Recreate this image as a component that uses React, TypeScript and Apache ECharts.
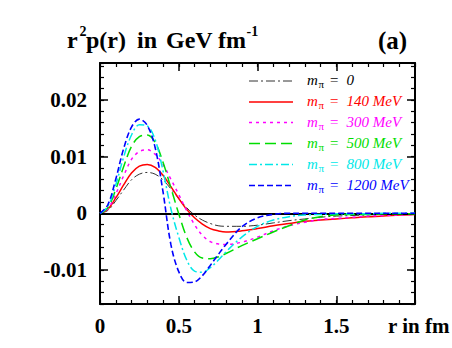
import React, { useEffect, useRef } from "react";
import * as echarts from "echarts";

// r in fm
const R = [0, 0.05, 0.1, 0.15, 0.2, 0.25, 0.3, 0.35, 0.4, 0.45, 0.5, 0.55, 0.6, 0.65, 0.7, 0.75, 0.8, 0.9, 1.0, 1.1, 1.2, 1.3, 1.4, 1.5, 1.6, 1.7, 1.8, 1.9, 2.0];

// r^2 p(r) in GeV fm^-1
const M0 = [0, 0.0005, 0.0022, 0.0041, 0.0059, 0.0069, 0.0072, 0.0069, 0.0059, 0.0043, 0.0026, 0.0010, -0.0003, -0.0012, -0.0018, -0.0022, -0.0023, -0.0023, -0.0021, -0.0017, -0.0013, -0.0010, -0.0007, -0.0005, -0.0004, -0.0003, -0.0002, -0.0002, -0.0001];
const M140 = [0, 0.0007, 0.0027, 0.0050, 0.0071, 0.0083, 0.0086, 0.0081, 0.0067, 0.0047, 0.0026, 0.0007, -0.0008, -0.0019, -0.0027, -0.0031, -0.0033, -0.0031, -0.0027, -0.0022, -0.0018, -0.0014, -0.0012, -0.0010, -0.0008, -0.0006, -0.0005, -0.0003, -0.0002];
const M300 = [0, 0.0008, 0.0034, 0.0066, 0.0095, 0.0109, 0.0112, 0.0104, 0.0086, 0.0060, 0.0033, 0.0005, -0.0020, -0.0039, -0.0050, -0.0054, -0.0055, -0.0051, -0.0042, -0.0031, -0.0022, -0.0016, -0.0011, -0.0009, -0.0007, -0.0005, -0.0004, -0.0003, -0.0002];
const M500 = [0, 0.0010, 0.0042, 0.0082, 0.0118, 0.0135, 0.0138, 0.0125, 0.0090, 0.0045, -0.0001, -0.0042, -0.0068, -0.0079, -0.0080, -0.0077, -0.0071, -0.0057, -0.0045, -0.0033, -0.0022, -0.0012, -0.0006, -0.0003, -0.0002, -0.0002, -0.0001, -0.0001, -0.0001];
const M800 = [0, 0.0012, 0.0050, 0.0099, 0.0138, 0.0156, 0.0154, 0.0130, 0.0075, 0.0008, -0.0042, -0.0082, -0.0102, -0.0104, -0.0096, -0.0083, -0.0068, -0.0042, -0.0023, -0.0012, -0.0006, -0.0003, -0.0002, -0.0001, -0.0001, -0.0001, 0, 0, 0];
const M1200 = [0, 0.0015, 0.0060, 0.0114, 0.0152, 0.0166, 0.0155, 0.0116, 0.0038, -0.0055, -0.0103, -0.0122, -0.0121, -0.0110, -0.0092, -0.0073, -0.0055, -0.0024, -0.0008, -0.0002, 0, 0, 0, 0, 0, 0, 0, 0, 0];

const LEGEND_VALUES = ["0", "140 MeV", "300 MeV", "500 MeV", "800 MeV", "1200 MeV"];
const Y_MAJOR = [-0.01, 0, 0.01, 0.02];

const SERIES = [
  { data: M0, color: "#333333", dash: [9, 3, 2, 3], width: 1 },
  { data: M140, color: "#ff0000", dash: "solid" as any, width: 1.5 },
  { data: M300, color: "#ff00ff", dash: [3, 4], width: 1.5 },
  { data: M500, color: "#00dd00", dash: [11, 5], width: 1.5 },
  { data: M800, color: "#00e8e8", dash: [8, 3, 2, 3], width: 1.5 },
  { data: M1200, color: "#0000ff", dash: [6, 3], width: 1.6 },
];

const SERIF = "Liberation Serif";

export default function App() {
  const ref = useRef<HTMLDivElement>(null);
  useEffect(() => {
    if (!ref.current) return;
    const chart = echarts.init(ref.current, null, { renderer: "svg" });

    const minorX = (pos: string) => ({
      type: "value", min: 0, max: 2, interval: 0.1, position: pos,
      axisLine: { show: true, onZero: false, lineStyle: { color: "#000", width: 2 } },
      axisTick: { show: true, inside: true, length: 4, lineStyle: { color: "#000", width: 1.2 } },
      axisLabel: { show: false }, splitLine: { show: false },
    });
    const majorX = (pos: string, labels: boolean) => ({
      type: "value", min: 0, max: 2, interval: 0.5, position: pos,
      axisLine: { show: false, onZero: false },
      axisTick: { show: true, inside: true, length: 8, lineStyle: { color: "#000", width: 1.5 } },
      axisLabel: {
        show: labels, margin: 11, color: "#000", fontFamily: SERIF, fontWeight: "bold", fontSize: 21,
        formatter: (v: number) => (v >= 2 ? "" : String(v)),
      },
      splitLine: { show: false },
    });
    const minorY = (pos: string) => ({
      type: "value", min: -0.016, max: 0.0265, interval: 0.002, position: pos,
      axisLine: { show: true, onZero: false, lineStyle: { color: "#000", width: 2 } },
      axisTick: { show: true, inside: true, length: 4, lineStyle: { color: "#000", width: 1.2 } },
      axisLabel: { show: false }, splitLine: { show: false },
    });
    const majorY = (pos: string, labels: boolean) => ({
      type: "value", min: -0.016, max: 0.0265, position: pos,
      axisLine: { show: false, onZero: false },
      axisTick: { show: true, inside: true, length: 8, customValues: Y_MAJOR, lineStyle: { color: "#000", width: 1.5 } },
      axisLabel: {
        show: labels, margin: 13, customValues: Y_MAJOR, color: "#000", fontFamily: SERIF, fontWeight: "bold", fontSize: 21,
        formatter: (v: number) => String(Math.round(v * 1000) / 1000),
      },
      splitLine: { show: false },
    });

    const graphic: any[] = [];
    const titleStyle = (text: string, size: number) => ({
      text, fill: "#000", fontFamily: SERIF, fontWeight: "bold", fontSize: size, verticalAlign: "middle", align: "left",
    });
    graphic.push({ type: "text", x: 67, y: 40, style: titleStyle("r", 24) });
    graphic.push({ type: "text", x: 79.5, y: 31.5, style: titleStyle("2", 14) });
    graphic.push({ type: "text", x: 86, y: 40, style: titleStyle("p(r)", 24) });
    graphic.push({ type: "text", x: 137, y: 40, style: titleStyle("in", 24) });
    graphic.push({ type: "text", x: 166, y: 40, style: titleStyle("GeV", 24) });
    graphic.push({ type: "text", x: 218, y: 40, style: titleStyle("fm", 24) });
    graphic.push({ type: "text", x: 246.5, y: 31.5, style: titleStyle("-1", 14) });
    graphic.push({ type: "text", x: 378, y: 40, style: titleStyle("(a)", 25) });
    graphic.push({ type: "text", x: 388, y: 326, style: titleStyle("r in fm", 21) });

    const rowY = [81, 102, 122.5, 143.5, 164.5, 185.5];
    SERIES.forEach((s, i) => {
      const y = rowY[i];
      graphic.push({
        type: "line", shape: { x1: 249, y1: y, x2: 293, y2: y },
        style: { stroke: s.color, lineWidth: s.width, lineDash: s.dash === "solid" ? null : s.dash },
      });
      const col = i === 0 ? "#000" : s.color;
      const it = (t: string, size: number, italic: boolean) => ({
        text: t, fill: col, fontFamily: SERIF, fontStyle: italic ? "italic" : "normal", fontSize: size,
        verticalAlign: "middle", align: "left",
      });
      graphic.push({ type: "text", x: 307, y: y - 1, style: it("m", 15, true) });
      graphic.push({ type: "text", x: 318.5, y: y + 3, style: it("π", 11, false) });
      graphic.push({ type: "text", x: 329, y: y - 1, style: it("=", 15, true) });
      graphic.push({ type: "text", x: 346.5, y: y - 1, style: it(LEGEND_VALUES[i], 15, true) });
    });

    chart.setOption({
      animation: false,
      grid: { left: 100, right: 37, top: 63, bottom: 44, containLabel: false },
      xAxis: [minorX("bottom"), majorX("bottom", true), minorX("top"), majorX("top", false)],
      yAxis: [minorY("left"), majorY("left", true), minorY("right"), majorY("right", false)],
      series: SERIES.map((s, i) => ({
        type: "line",
        xAxisIndex: 0,
        yAxisIndex: 0,
        data: R.map((r, k) => [r, s.data[k]]),
        smooth: 0.35,
        showSymbol: false,
        symbol: "none",
        lineStyle: { color: s.color, width: s.width, type: s.dash },
        z: 2 + i,
        markLine: i === 0 ? {
          silent: true, symbol: ["none", "none"], label: { show: false },
          lineStyle: { color: "#000", width: 2, type: "solid" },
          data: [{ yAxis: 0 }],
        } : undefined,
      })),
      graphic,
    });
    return () => chart.dispose();
  }, []);
  return <div ref={ref} style={{ width: 452, height: 348, position: "absolute", left: 0, top: 0 }} />;
}
